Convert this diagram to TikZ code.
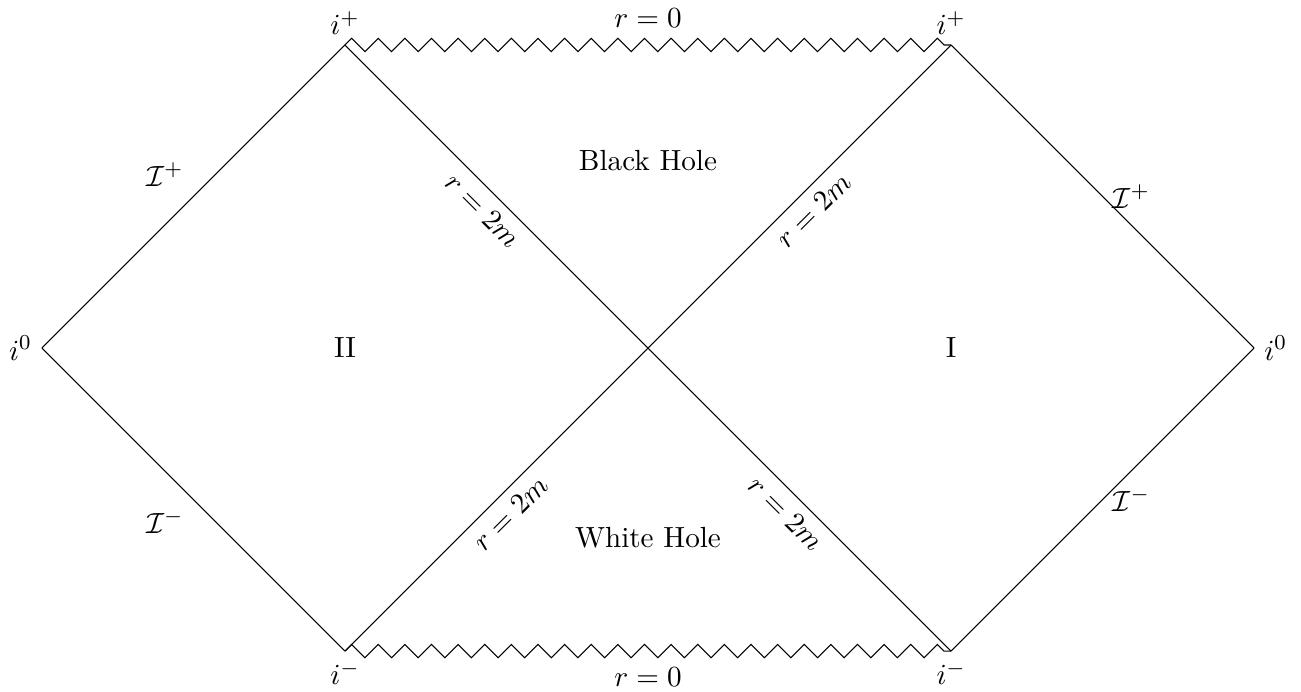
\documentclass[tikz,border=0pt,11pt]{standalone}
\usetikzlibrary{decorations.pathmorphing, positioning}
\tikzset{
  edge/.style={draw, line width=0.4pt},
  singularity/.style={draw, decorate, decoration={zigzag, segment length=10pt, amplitude=2.5pt}},
  horizonlabel/.style={sloped, below},
  region/.style={align=center}
}

\begin{document}
\begin{tikzpicture}
\useasboundingbox (-8.554,-4.528) rectangle (8.62,4.594);
% corners of the diagram
\coordinate (iL) at (-8,0);
\coordinate (iR) at (8,0);
\coordinate (tl) at (-4,4);
\coordinate (tr) at (4,4);
\coordinate (bl) at (-4,-4);
\coordinate (br) at (4,-4);
% outer edges
\draw[edge] (iL) -- node[above left] (scriLp) {$\mathcal{I}^+$} (tl);
\draw[edge] (iL) -- node[below left] (scriLm) {$\mathcal{I}^-$} (bl);
\draw[edge] (tr) -- node[right] (scriRp) {$\mathcal{I}^+$} (iR);
\draw[edge] (br) -- node[right] (scriRm) {$\mathcal{I}^-$} (iR);
% horizons
\draw[edge] (tl) -- node[horizonlabel, pos=.25] (hA) {$r=2m$} node[horizonlabel, pos=.75] (hB) {$r=2m$} (br);
\draw[edge] (bl) -- node[horizonlabel, pos=.25] (hC) {$r=2m$} node[horizonlabel, pos=.75] (hD) {$r=2m$} (tr);
% singularities
\draw[singularity] (tl) -- (tr);
\draw[singularity] (bl) -- (br);
\node[above=0.9mm] (rtop) at (0,4) {$r=0$};
\node[below=0.9mm] (rbot) at (0,-4) {$r=0$};
% infinities
\node[left] (iLlab) at (iL) {$i^0$};
\node[right] (iRlab) at (iR) {$i^0$};
\node[above] (tllab) at (tl) {$i^+$};
\node[above] (trlab) at (tr) {$i^+$};
\node[below] (bllab) at (bl) {$i^-$};
\node[below] (brlab) at (br) {$i^-$};
% regions
\node[region] (bh) at (0,2.48) {Black Hole};
\node[region] (wh) at (0,-2.5) {White Hole};
\node[region] (regII) at (-4,0) {II};
\node[region] (regI) at (4,0) {I};
\end{tikzpicture}
\end{document}
